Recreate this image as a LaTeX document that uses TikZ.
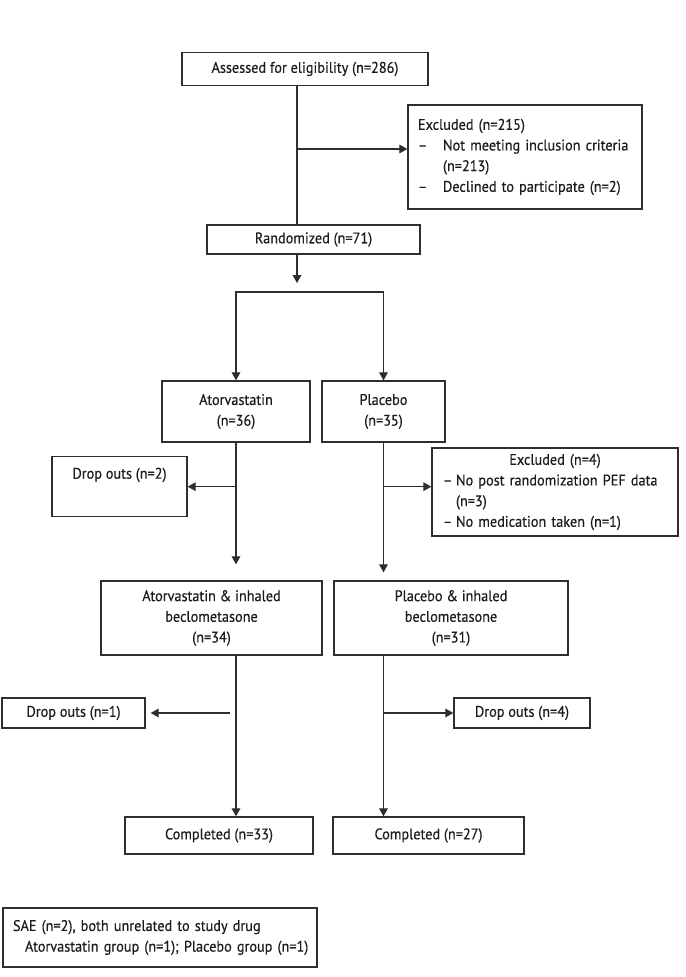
\documentclass[tikz,border=0pt]{standalone}
\usepackage{fontspec}
\setmainfont{PT Sans}[FakeStretch=0.93, FakeBold=0.35]
\usetikzlibrary{arrows.meta, calc}
\newcommand{\pxu}{0.75pt}
\newcommand{\itemdash}[1]{\makebox[#1][l]{\textendash}}
\definecolor{inkgray}{HTML}{1C1C1C}
\definecolor{linegray}{HTML}{2E2E2E}

\begin{document}
\begin{tikzpicture}[
		x=\pxu, y=-\pxu,
		>={Triangle[length=6pt, width=6.5pt]},
		box/.style={
			draw=linegray, line width=1pt, text=inkgray, inner sep=0pt,
			align=center, font=\fontsize{11.5}{15.5}\selectfont
		},
		listbox/.style={box, align=left},
		link/.style={draw=linegray, line width=0.9pt}
		]
		
		% page
		\fill[white] (0,0) rectangle (685,977);
		\useasboundingbox (0,0) rectangle (685,977);
		
		% ==========================================
		% ENROLMENT
		% ==========================================
		
		\node[box, minimum width=184.5pt, minimum height=24.75pt] (assess) at (305,69) {Assessed for eligibility (n=286)};
		
		\node[listbox, text width=160.5pt, inner xsep=7.5pt, minimum height=78pt] (excl1) at (525,157) {
			Excluded (n=215)\\
			\mbox{\itemdash{18.75pt}Not meeting inclusion criteria}\\
			\hspace*{18.75pt}(n=213)\\
			\mbox{\itemdash{18.75pt}Declined to participate (n=2)}
		};
		
		\node[box, minimum width=159.75pt, minimum height=21.75pt] (rand) at (313.5,239.5) {Randomized (n=71)};
		
		% trunk of the enrolment part
		\coordinate (trunk) at (297,149);
		\coordinate (split) at (297,283);
		\coordinate (bar) at (297,292);
		
		\draw[link] (assess.south -| trunk) -- (rand.north -| trunk);
		\draw[link, ->] (trunk) -- (excl1.west |- trunk);
		\draw[link, ->] (rand.south -| trunk) -- (split);
		
		% ==========================================
		% ALLOCATION
		% ==========================================
		
		\node[box, minimum width=111pt, minimum height=45.75pt] (ator) at (236,411.5) {Atorvastatin\\(n=36)};
		\node[box, minimum width=92.25pt, minimum height=45.75pt] (plac) at (383.5,411.5) {Placebo\\(n=35)};
		
		\draw[link, <->] (ator.north) |- (bar) -| (plac.north);
		
		% losses before treatment
		\node[box, anchor=north, minimum width=101.25pt, text height=16.5pt, text depth=28.5pt] (drop1) at (119.5,456) {Drop outs (n=2)};
		
		\node[listbox, text width=168pt, inner xsep=8.25pt, minimum height=66pt] (excl2) at (555,492) {
			\centering Excluded (n=4)\par
			\raggedright
			\mbox{\itemdash{9.75pt}No post randomization PEF data}\\
			\hspace*{9.75pt}(n=3)\\
			\mbox{\itemdash{9.75pt}No medication taken (n=1)}
		};
		
		\draw[link, ->] (ator.south |- drop1.east) -- (drop1.east);
		\draw[link, ->] (plac.south |- drop1.east) -- (excl2.west |- drop1.east);
		
		% ==========================================
		% TREATMENT AND FOLLOW-UP
		% ==========================================
		
		\node[box, minimum width=165.75pt, minimum height=55.5pt] (atorbec) at (211.5,618) {Atorvastatin \& inhaled\\beclometasone\\(n=34)};
		\node[box, minimum width=175.5pt, minimum height=55.5pt] (placbec) at (451,618) {Placebo \& inhaled\\beclometasone\\(n=31)};
		
		\draw[link, ->, shorten >=12pt] (ator.south) -- (ator.south |- atorbec.north);
		\draw[link, ->, shorten >=6pt] (plac.south) -- (plac.south |- placbec.north);
		
		\node[box, minimum width=107.25pt, minimum height=22.5pt] (drop2) at (73.5,713) {Drop outs (n=1)};
		\node[box, minimum width=102pt, minimum height=22.5pt] (drop3) at (522,713) {Drop outs (n=4)};
		
		\node[box, minimum width=141pt, minimum height=27.75pt] (comp1) at (219,835.5) {Completed (n=33)};
		\node[box, minimum width=143.25pt, minimum height=27.75pt] (comp2) at (428.5,835.5) {Completed (n=27)};
		
		\draw[link, ->] (ator.south |- atorbec.south) -- (ator.south |- comp1.north);
		\draw[link, ->] (plac.south |- placbec.south) -- (plac.south |- comp2.north);
		\draw[link, ->, shorten <=4.5pt, shorten >=3.75pt] (ator.south |- drop2.east) -- (drop2.east);
		\draw[link, ->] (plac.south |- drop3.west) -- (drop3.west);
		
		% Serious adverse events
		\node[listbox, text width=220.5pt, inner xsep=7.5pt, minimum height=44.25pt] (sae) at (160,937.5) {
			\mbox{SAE (n=2), both unrelated to study drug}\\
			\mbox{\hspace*{9pt}Atorvastatin group (n=1); Placebo group (n=1)}
		};
		
	\end{tikzpicture}
\end{document}
